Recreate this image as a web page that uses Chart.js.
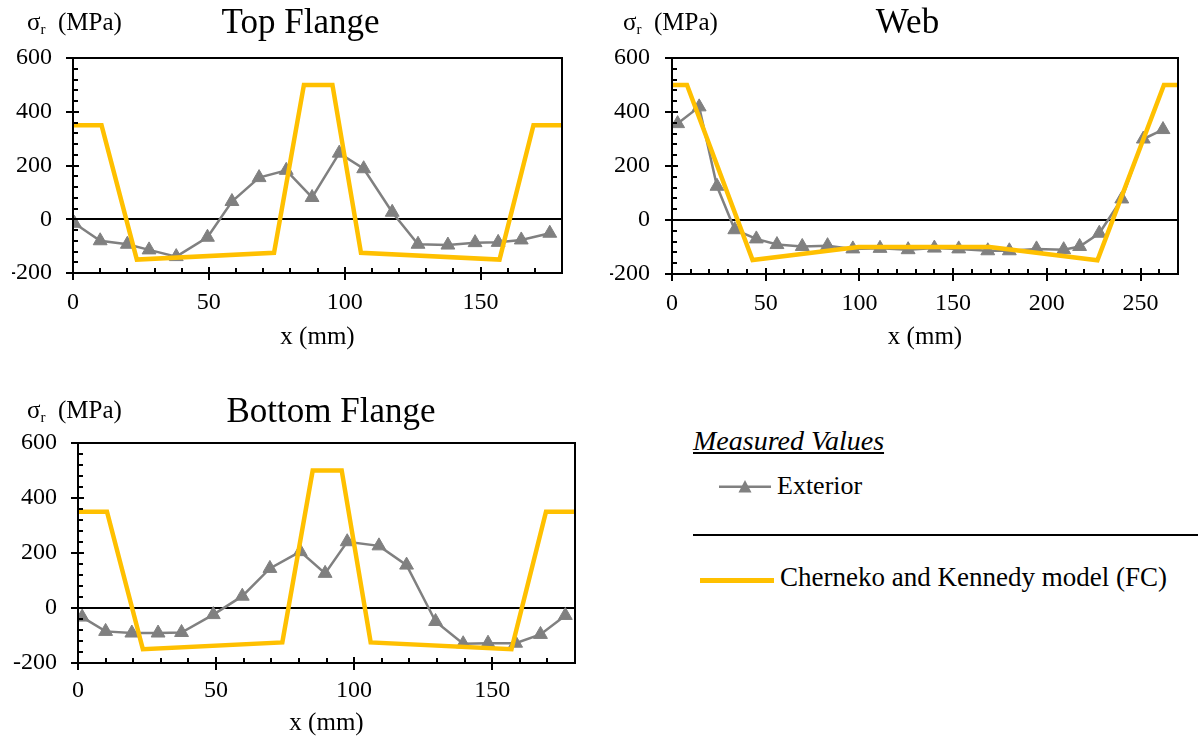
<!DOCTYPE html>
<html><head><meta charset="utf-8">
<script src="https://cdn.jsdelivr.net/npm/chart.js@4.4.1/dist/chart.umd.min.js"></script>
<style>
body{margin:0;background:#fff;width:1198px;height:740px;position:relative;overflow:hidden;font-family:"Liberation Serif","Times New Roman",serif;color:#000}
canvas{position:absolute}
.t{position:absolute;white-space:nowrap;line-height:1}
.yl{font-size:25px}
.yl sub{font-size:15px;vertical-align:-4px}
</style></head><body>
<canvas id="c1" style="left:0;top:0" width="589" height="352"></canvas>
<canvas id="c2" style="left:600px;top:0" width="605" height="352"></canvas>
<canvas id="c3" style="left:0;top:385px" width="650" height="353"></canvas>

<div class="t yl" style="left:27px;top:9px">σ<sub>r</sub>&nbsp; (MPa)</div>
<div class="t yl" style="left:623px;top:9px">σ<sub>r</sub>&nbsp; (MPa)</div>
<div class="t yl" style="left:27px;top:397px">σ<sub>r</sub>&nbsp; (MPa)</div>

<div class="t" style="left:693px;top:427px;font-size:28px;font-style:italic;text-decoration:underline;text-decoration-thickness:1.5px;text-underline-offset:2px">Measured Values</div>
<svg style="position:absolute;left:715px;top:475px" width="60" height="24">
  <line x1="4" y1="11.7" x2="56" y2="11.7" stroke="#808080" stroke-width="2.5"/>
  <polygon points="30,5 36.5,17.5 23.5,17.5" fill="#808080"/>
</svg>
<div class="t" style="left:777px;top:473px;font-size:26px">Exterior</div>
<div style="position:absolute;left:693px;top:534px;width:505px;height:2px;background:#000"></div>
<div style="position:absolute;left:700px;top:578px;width:74px;height:5px;background:#FFC000"></div>
<div class="t" style="left:780px;top:564px;font-size:27px">Cherneko and Kennedy model (FC)</div>

<script>
// ---- data ----
const topFlangeX = [0.5, 10, 20, 28, 38, 49.5, 58.5, 68.5, 78.5, 88, 98, 107, 117.5, 127, 138, 148, 156.5, 165, 175.5];
const topFlangeY = [-15, -80, -93, -114, -139, -67, 66, 155, 182, 81, 246, 188, 26, -93, -96, -87, -86, -77, -52];

const webX = [3, 14.5, 24, 33.5, 45, 56, 69.5, 83, 96.5, 111, 126, 140, 153, 168.5, 180, 194.5, 209, 217.5, 228, 240, 251.5, 262];
const webY = [357, 419, 125, -36, -70, -91, -98, -95, -107, -105, -110, -104, -107, -114, -114, -107, -110, -98, -49, 78, 300, 335];

const bottomFlangeX = [1.5, 10, 19.5, 29, 37.5, 49, 59.5, 69.5, 80.5, 89.5, 97.5, 109, 119, 129.5, 139.5, 148.5, 158.5, 167.5, 176.5];
const bottomFlangeY = [-33, -85, -91, -91, -89, -24, 43, 144, 205, 126, 241, 226, 156, -49, -130, -128, -128, -96, -27];

const flangeModelX = [0, 10.5, 23.5, 74, 85, 95.5, 106, 157, 169.5, 180];
const flangeModelY = [350, 350, -150, -125, 500, 500, -125, -150, 350, 350];

const webModelX = [0, 8, 43, 99.5, 169.5, 227, 262.5, 270];
const webModelY = [500, 500, -148, -100, -100, -149, 500, 500];

const yTicks = [-200, 0, 200, 400, 600];
const titles = ['Top Flange', 'Web', 'Bottom Flange'];
const xTitle = 'x (mm)';
const seriesNames = ['Exterior', 'Cherneko and Kennedy model (FC)'];

// ---- drawing ----
const FONT = '"Liberation Serif","Times New Roman",serif';
const pts = (xs, ys) => xs.map((v, i) => ({x: v, y: ys[i]}));

const frameTicks = {
  id: 'frameTicks',
  afterDraw(chart) {
    const {ctx, chartArea: a, scales: {x, y}} = chart;
    ctx.save();
    ctx.strokeStyle = '#000';
    ctx.lineWidth = 2;
    ctx.strokeRect(a.left, a.top, a.right - a.left, a.bottom - a.top);
    ctx.beginPath();
    for (let v = x.min; v < x.max; v += 10) {
      const px = Math.round(x.getPixelForValue(v));
      if (v % 50 === 0) { ctx.moveTo(px, a.bottom - 6); ctx.lineTo(px, a.bottom + 7); }
      else { ctx.moveTo(px, a.bottom - 5); ctx.lineTo(px, a.bottom); }
    }
    for (let v = y.min; v <= y.max; v += 40) {
      const py = Math.round(y.getPixelForValue(v));
      if (v % 200 === 0) { ctx.moveTo(a.left - 7, py); ctx.lineTo(a.left + 6, py); }
      else { ctx.moveTo(a.left, py); ctx.lineTo(a.left + 5, py); }
    }
    ctx.stroke();
    ctx.restore();
  }
};

function makeChart(id, title, sx, sy, mx, my, xmax, L) {
  return new Chart(document.getElementById(id), {
    type: 'scatter',
    data: {datasets: [
      {label: seriesNames[1], data: pts(mx, my), showLine: true, borderColor: '#FFC000',
       borderWidth: 4.5, pointRadius: 0, order: 0},
      {label: seriesNames[0], data: pts(sx, sy), showLine: true, borderColor: '#808080',
       borderWidth: 2.5, pointStyle: 'triangle', pointRadius: 8, pointBackgroundColor: '#808080',
       pointBorderColor: '#808080', pointBorderWidth: 1, order: 1}
    ]},
    options: {
      responsive: false, animation: false, events: [],
      layout: {padding: {left: L.pl, right: 0, top: 0, bottom: 0}},
      plugins: {
        legend: {display: false}, tooltip: {enabled: false},
        title: {display: true, text: title, color: '#000',
          font: {family: FONT, size: 35, weight: 'normal'}, padding: {top: L.tt, bottom: L.tb}}
      },
      scales: {
        x: {type: 'linear', min: 0, max: xmax, border: {display: false},
          grid: {drawTicks: false, drawOnChartArea: false},
          ticks: {stepSize: 50, includeBounds: false, color: '#000', maxRotation: 0, autoSkip: false,
            font: {family: FONT, size: 24}, padding: L.xp},
          title: {display: true, text: xTitle, color: '#000', font: {family: FONT, size: 25}, padding: 0},
          afterFit: s => { s.height = L.xh; }},
        y: {type: 'linear', position: 'left', min: -200, max: 600, border: {display: false},
          grid: {drawTicks: false, lineWidth: 2,
            color: c => (c.tick && c.tick.value === 0) ? '#000' : 'rgba(0,0,0,0)'},
          afterBuildTicks: s => { s.ticks = yTicks.map(v => ({value: v})); },
          ticks: {color: '#000', font: {family: FONT, size: 24}, padding: L.yp},
          afterFit: s => { s.width = L.yw; }},
        yr: {type: 'linear', position: 'right', display: true, border: {display: false},
          grid: {display: false, drawTicks: false}, ticks: {display: false},
          afterFit: s => { s.width = L.R; }}
      }
    },
    plugins: [frameTicks]
  });
}

makeChart('c1', titles[0], topFlangeX, topFlangeY, flangeModelX, flangeModelY, 180,
  {pl: 12, yw: 61, R: 27, yp: 21, xp: 15, xh: 79, tt: 3, tb: 13});
makeChart('c2', titles[1], webX, webY, webModelX, webModelY, 270,
  {pl: 10, yw: 62, R: 27, yp: 22, xp: 15, xh: 78, tt: 3, tb: 13});
makeChart('c3', titles[2], bottomFlangeX, bottomFlangeY, flangeModelX, flangeModelY, 180,
  {pl: 12, yw: 66, R: 75, yp: 21, xp: 13, xh: 75, tt: 7, tb: 9});
</script>
</body></html>
